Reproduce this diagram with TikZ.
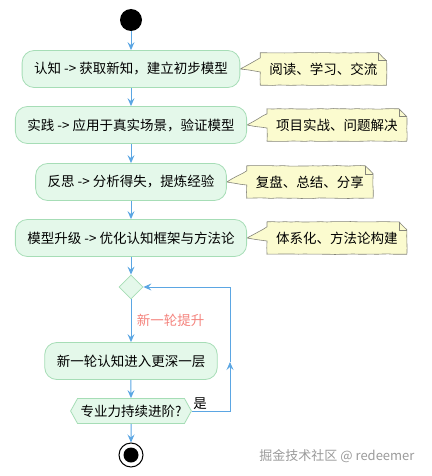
\documentclass[tikz,border=0pt]{standalone}
\usepackage{fontspec}
\setmainfont{Noto Sans CJK SC}
\usetikzlibrary{positioning,shapes.geometric,shapes.symbols,arrows.meta,decorations.pathmorphing,backgrounds}

\definecolor{boxfill}{HTML}{E4F8EA}
\definecolor{boxline}{HTML}{A6DDB6}
\definecolor{notefill}{HTML}{FBFBCF}
\definecolor{noteline}{HTML}{85857A}
\definecolor{flow}{HTML}{5BA6E3}
\definecolor{loopred}{HTML}{F4837D}
\definecolor{wmgray}{HTML}{9A9A9A}

\tikzset{
  wobble/.style={decorate,decoration={random steps,segment length=6pt,amplitude=0.3pt}},
  stepbox/.style={draw=boxline,fill=boxfill,line width=0.8pt,rounded corners=12pt,
    minimum height=37pt,inner xsep=12pt,font=\fontsize{13.5}{16}\selectfont},
  notebox/.style={minimum height=32pt,inner xsep=9pt,font=\fontsize{13.5}{16}\selectfont},
  noteline/.style={draw=noteline,fill=notefill,line width=0.6pt,wobble},
  flowline/.style={draw=flow,line width=1pt,-{Stealth[length=8pt,width=7pt,inset=3pt]}},
}

\begin{document}
\pgfmathsetseed{11}
\begin{tikzpicture}[x=1pt,y=-1pt]
    \useasboundingbox (0,0) rectangle (431,476);
    % start / end
    \node[circle,fill=black,minimum size=22pt,inner sep=0pt] (start) at (131,20) {};
    \node[circle,draw=black,fill=white,line width=1pt,minimum size=24pt,inner sep=0pt] (stop) at (131,455) {};
    \node[circle,fill=black,minimum size=15pt,inner sep=0pt] (stopin) at (stop.center) {};

    % steps
    \node[stepbox] (s1) at (131,69)  {认知 -> 获取新知，建立初步模型};
    \node[stepbox] (s2) at (131,125) {实践 -> 应用于真实场景，验证模型};
    \node[stepbox] (s3) at (131,182) {反思 -> 分析得失，提炼经验};
    \node[stepbox] (s4) at (131,238) {模型升级 -> 优化认知框架与方法论};
    \node[diamond,draw=boxline,fill=boxfill,line width=0.8pt,minimum width=24pt,minimum height=24pt,inner sep=0pt] (merge) at (131,287) {};
    \node[stepbox] (s5) at (131,361) {新一轮认知进入更深一层};
    \node[signal,signal to=west and east,signal pointer angle=122,draw=boxline,fill=boxfill,line width=0.8pt,
          minimum height=25pt,inner xsep=3pt,font=\fontsize{13.5}{16}\selectfont] (ask) at (131,411) {专业力持续进阶?};

    % notes
    \node[notebox,right=20pt of s1] (n1) {阅读、学习、交流};
    \node[notebox,right=20pt of s2] (n2) {项目实战、问题解决};
    \node[notebox,right=20pt of s3] (n3) {复盘、总结、分享};
    \node[notebox,right=20pt of s4] (n4) {体系化、方法论构建};
    \begin{scope}[on background layer]
        \foreach \n/\b in {n1/s1,n2/s2,n3/s3,n4/s4}{
            \draw[noteline] (\n.north west) -- ([xshift=-8pt]\n.north east) -- ([yshift=-8pt]\n.north east)
                -- (\n.south east) -- (\n.south west) -- ([yshift=-3pt]\n.west) -- (\b.east)
                -- ([yshift=-5pt]\n.north west) -- cycle;
            \draw[draw=noteline,line width=0.6pt] ([xshift=-8pt]\n.north east) |- ([yshift=-8pt]\n.north east);
        }
    \end{scope}

    % flow
    \draw[flowline] (start) -- (s1);
    \draw[flowline] (s1) -- (s2);
    \draw[flowline] (s2) -- (s3);
    \draw[flowline] (s3) -- (s4);
    \draw[flowline] (s4) -- (merge);
    \draw[flowline] (merge) -- node[right,text=loopred,font=\fontsize{13.5}{16}\selectfont,xshift=2pt] {新一轮提升} (s5);
    \draw[flowline] (s5) -- (ask);
    \draw[flowline] (ask) -- (stop);

    % loop back
    \coordinate (loopbr) at (230,411);
    \coordinate (loopmid) at (230,362);
    \coordinate (looptr) at (230,287);
    \draw[flowline] (ask.east) -- node[pos=0,anchor=south west,inner sep=1pt,font=\fontsize{13.5}{16}\selectfont] {是} (loopbr) -- (loopmid);
    \draw[flowline] (loopmid) -- (looptr) -- (merge.east);

    \node[anchor=east,text=wmgray,font=\fontsize{13}{15}\selectfont] (mark) at (418,456) {掘金技术社区 @ redeemer};
\end{tikzpicture}
\end{document}
